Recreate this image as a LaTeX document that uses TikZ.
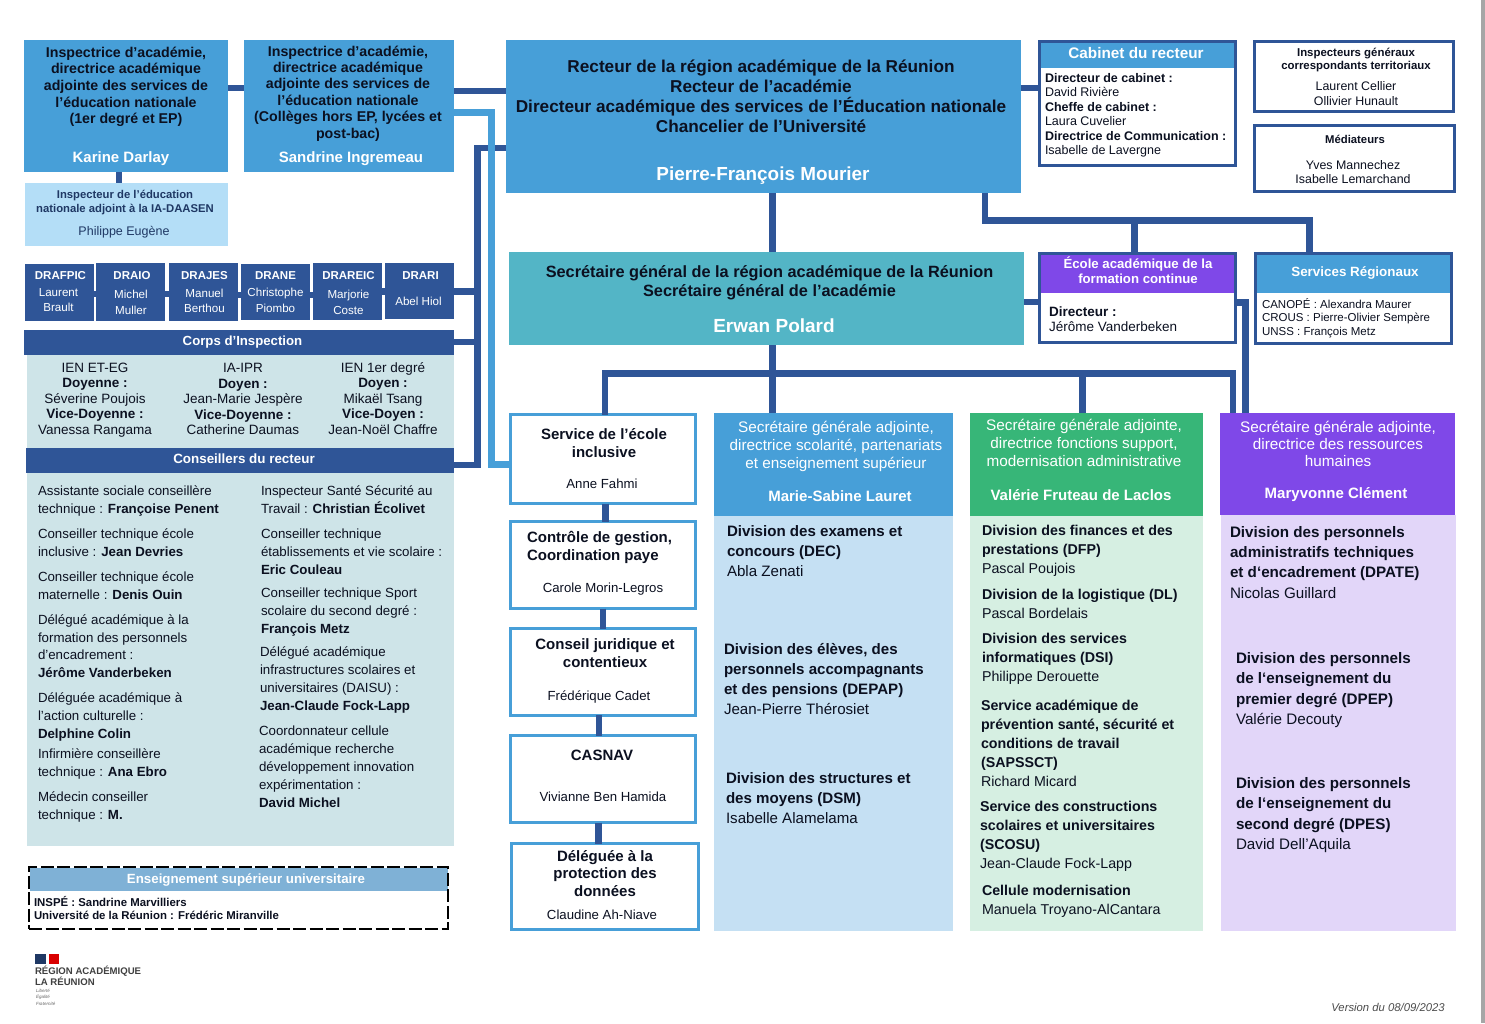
\documentclass[tikz,border=0pt]{standalone}
\usepackage{fontspec}
\setmainfont{Liberation Sans}
\definecolor{dk}{HTML}{2F5597}
\definecolor{bl}{HTML}{479FD8}
\definecolor{lbl}{HTML}{B4DEF7}
\definecolor{pan}{HTML}{CEE4E8}
\definecolor{teal}{HTML}{53B5C6}
\definecolor{pur}{HTML}{7F48E8}
\definecolor{grn}{HTML}{37B678}
\definecolor{lgrn}{HTML}{D6EFE2}
\definecolor{lpur}{HTML}{E2D6F9}
\definecolor{lblu}{HTML}{C5E0F3}
\definecolor{ens}{HTML}{7FB1D6}
\definecolor{ink}{HTML}{0B1020}
\definecolor{navy}{HTML}{1F3864}
\tikzset{
 boxn/.style={inner sep=0pt,outer sep=0pt,anchor=north west,draw=none},
 ruled/.style={draw=dk,line width=3pt},
 bruled/.style={draw=bl,line width=3pt},
 lbln/.style={inner sep=0pt,outer sep=0pt,anchor=north,align=center,text=ink},
 lft/.style={anchor=north west,align=left},
 wht/.style={text=white},
 conn/.style={draw=dk,line width=6.5pt},
 connl/.style={draw=bl,line width=6.5pt},
}
\newcommand\bx[6][]{\node[boxn,#1,minimum width={#5-#3},minimum height={#6-#4}] (#2) at (#3,#4) {};}
\newcommand\tx[7][]{\node[lbln,#1,font=\fontsize{#5}{#6}\selectfont] (#2) at (#3,{#4-0.64*#5}) {\rule{0pt}{#5pt}#7};}
\newcommand\txb[7][]{\node[lbln,#1,font=\fontsize{#5}{#6}\selectfont\bfseries] (#2) at (#3,{#4-0.64*#5}) {\rule{0pt}{#5pt}#7};}
\begin{document}
\begin{tikzpicture}[x=1pt,y=-1pt]
\useasboundingbox (0,0) rectangle (1485,1023);
\fill[white] (0,0) rectangle (1485,1023);
\bx[fill=gray!70]{scrollbar}{1481}{0}{1485}{1023}
% boxes
\bx[fill=bl]{iaone}{24}{40}{228}{172}
\bx[fill=bl]{iatwo}{244}{40}{454}{172}
\bx[fill=lbl]{ien}{25}{183}{228}{246}
\bx[fill=pan]{corpspan}{27}{355}{454}{448}
\bx[fill=dk]{corps}{24}{330}{454}{355}
\bx[fill=pan]{conspan}{27}{473}{454}{846}
\bx[fill=dk]{cons}{26}{448}{454}{473}
\bx[fill=bl]{rector}{506}{40}{1021}{193}
\bx[ruled]{cab}{1039.5}{41.5}{1235.5}{165.5}
\bx[fill=bl]{cabh}{1041}{43}{1234}{68}
\bx[ruled]{ig}{1254.5}{41.5}{1453.5}{111.5}
\bx[ruled]{med}{1254.5}{125.5}{1454.5}{191.5}
\bx[fill=teal]{sg}{509}{252}{1024}{345}
\bx[ruled]{ea}{1039.5}{253.5}{1235.5}{342.5}
\bx[fill=pur]{eah}{1041}{255}{1234}{293}
\bx[ruled]{srv}{1255.5}{253.5}{1451.5}{343.5}
\bx[fill=bl]{srvh}{1257}{255}{1450}{293}
\bx[bruled]{sei}{510.5}{414.5}{695.2}{503.5}
\bx[bruled]{ctrl}{510.5}{521.5}{695.2}{608.5}
\bx[bruled]{jur}{510.5}{628.5}{695.2}{715.2}
\bx[bruled]{casnav}{510.5}{735.5}{695.2}{822.5}
\bx[bruled]{dpd}{511.5}{843.5}{698.2}{929.5}
\bx[fill=lblu]{colapan}{714}{516}{953}{931}
\bx[fill=bl]{cola}{714}{413}{953}{516}
\bx[fill=lgrn]{colbpan}{970}{516}{1203}{931}
\bx[fill=grn]{colb}{970}{413}{1203}{516}
\bx[fill=lpur]{colcpan}{1221}{515}{1456}{931}
\bx[fill=pur]{colc}{1220}{413}{1455}{515}
\bx[fill=ens]{ensh}{30}{868}{448}{891}
\bx[draw=black,line width=2pt,dash pattern=on 13pt off 3.5pt]{ensb}{29}{867}{447.5}{929}
% connectors
\draw[conn] (iaone.east |- 0,88) -- (iatwo.west |- 0,88);
\draw[conn] (iatwo.east |- 0,91) -- (rector.west |- 0,91);
\draw[conn] (rector.east |- 0,88) -- (cab.west |- 0,88);
\draw[conn] (iaone.south -| 119,0) -- (ien.north -| 119,0);
\draw[conn] (rector.west |- 0,148) -- (477.5,148) -- (477.5,465) -- (cons.east |- 0,465);
\draw[conn] (corps.east |- 0,342) -- (477.5,342);
\draw[connl] (iatwo.east |- 0,112.5) -- (491.5,112.5) -- (491.5,464.5) -- (sei.west |- 0,464.5);
\draw[conn] (rector.south -| 772.5,0) -- (sg.north -| 772.5,0);
\draw[conn] (rector.south -| 985,0) -- (985,220.5) -- (1309.5,220.5) -- (srv.north -| 1309.5,0);
\draw[conn] (1134.5,220.5) -- (ea.north -| 1134.5,0);
\draw[conn] (sg.east |- 0,302) -- (ea.west |- 0,302);
\draw[conn] (ea.east |- 0,302.5) -- (1245.5,302.5) -- (colc.north -| 1245.5,0);
\draw[conn] (sg.south -| 772.5,0) -- (cola.north -| 772.5,0);
\draw[conn] (sei.north -| 605,0) -- (605,373.5) -- (1233,373.5) -- (colc.north -| 1233,0);
\draw[conn] (1082.5,373.5) -- (colb.north -| 1082.5,0);
\draw[conn] (sei.south -| 605.5,0) -- (ctrl.north -| 605.5,0);
\draw[conn] (ctrl.south -| 603,0) -- (jur.north -| 603,0);
\draw[conn] (jur.south -| 599,0) -- (casnav.north -| 599,0);
\draw[conn] (casnav.south -| 598.5,0) -- (dpd.north -| 598.5,0);
% regional delegates row
\bx[fill=dk]{drafpic}{25}{264}{94}{321}
\bx[fill=dk]{draio}{96}{263}{165}{321}
\bx[fill=dk]{drajes}{169}{263}{238}{321}
\bx[fill=dk]{drane}{241}{264}{310}{320}
\bx[fill=dk]{drareic}{313}{263}{382}{320}
\bx[fill=dk]{drari}{385}{263}{454}{319}
\draw[conn] (drafpic.east |- 0,294) -- (draio.west |- 0,294);
\draw[conn] (draio.east |- 0,294) -- (drajes.west |- 0,294);
\draw[conn] (drajes.east |- 0,295) -- (drane.west |- 0,295);
\draw[conn] (drane.east |- 0,295) -- (drareic.west |- 0,295);
\draw[conn] (drareic.east |- 0,291.5) -- (drari.west |- 0,291.5);
\draw[conn] (drari.east |- 0,291.5) -- (477.5,291.5);
% texts
\txb[]{taone}{126}{52}{14.2}{16.7}{Inspectrice d’académie,\\directrice académique\\adjointe des services de\\l’éducation nationale\\(1er degré et EP)}
\txb[wht]{naone}{121}{157}{15}{18}{Karine Darlay}
\txb[]{tatwo}{348}{51}{14.2}{16.4}{Inspectrice d’académie,\\directrice académique\\adjointe des services de\\l’éducation nationale\\(Collèges hors EP, lycées et\\post-bac)}
\txb[wht]{natwo}{351}{157}{15}{18}{Sandrine Ingremeau}
\txb[text=navy]{tien}{125}{194}{11.3}{14}{Inspecteur de l’éducation\\nationale adjoint à la IA-DAASEN}
\tx[text=navy]{nien}{124}{231}{12.5}{15}{Philippe Eugène}
\txb[wht]{a1}{60.5}{275}{11.5}{14}{DRAFPIC}
\tx[wht]{a2}{58.5}{292}{11.6}{15.5}{Laurent\\Brault}
\txb[wht]{b1}{132}{275}{11.5}{14}{DRAIO}
\tx[wht]{b2}{131}{294}{11.6}{16}{Michel\\Muller}
\txb[wht]{c1}{204.5}{275}{11.5}{14}{DRAJES}
\tx[wht]{c2}{204.5}{293}{11.6}{15.5}{Manuel\\Berthou}
\txb[wht]{d1}{275.5}{275}{11.5}{14}{DRANE}
\tx[wht]{d2}{275.5}{292}{11.6}{16}{Christophe\\Piombo}
\txb[wht]{e1}{348.5}{275}{11.5}{14}{DRAREIC}
\tx[wht]{e2}{348.5}{294}{11.6}{16}{Marjorie\\Coste}
\txb[wht]{f1}{420.5}{275}{11.5}{14}{DRARI}
\tx[wht]{f2}{418.5}{301}{11.6}{14}{Abel Hiol}
\txb[wht]{tcorps}{242.5}{341}{13.2}{14}{Corps d’Inspection}
\tx[]{cp1}{95}{367.5}{13.5}{15.5}{IEN ET-EG\\\textbf{Doyenne :}\\Séverine Poujois\\\textbf{Vice-Doyenne :}\\Vanessa Rangama}
\tx[]{cp2}{243}{368}{13.5}{15.5}{IA-IPR\\\textbf{Doyen :}\\Jean-Marie Jespère\\\textbf{Vice-Doyenne :}\\Catherine Daumas}
\tx[]{cp3}{383}{367.5}{13.5}{15.5}{IEN 1er degré\\\textbf{Doyen :}\\Mikaël Tsang\\\textbf{Vice-Doyen :}\\Jean-Noël Chaffre}
\txb[wht]{tcons}{244}{459}{13.4}{14}{Conseillers du recteur}
\tx[lft]{l1}{38}{491}{13.3}{17.8}{Assistante sociale conseillère\\technique : \textbf{Françoise Penent}}
\tx[lft]{l2}{38}{534}{13.3}{17.8}{Conseiller technique école\\inclusive : \textbf{Jean Devries}}
\tx[lft]{l3}{38}{577}{13.3}{17.8}{Conseiller technique école\\maternelle : \textbf{Denis Ouin}}
\tx[lft]{l4}{38}{620}{13.3}{17.6}{Délégué académique à la\\formation des personnels\\d’encadrement :\\\textbf{Jérôme Vanderbeken}}
\tx[lft]{l5}{38}{698}{13.3}{17.6}{Déléguée académique à\\l’action culturelle :\\\textbf{Delphine Colin}}
\tx[lft]{l6}{38}{754}{13.3}{17.8}{Infirmière conseillère\\technique : \textbf{Ana Ebro}}
\tx[lft]{l7}{38}{797}{13.3}{17.8}{Médecin conseiller\\technique : \textbf{M.}}
\tx[lft]{r1}{261}{491}{13.3}{17.8}{Inspecteur Santé Sécurité au\\Travail : \textbf{Christian Écolivet}}
\tx[lft]{r2}{261}{534}{13.3}{18}{Conseiller technique\\établissements et vie scolaire :\\\textbf{Eric Couleau}}
\tx[lft]{r3}{261}{593}{13.3}{18}{Conseiller technique Sport\\scolaire du second degré :\\\textbf{François Metz}}
\tx[lft]{r4}{260}{652}{13.3}{18}{Délégué académique\\infrastructures scolaires et\\universitaires (DAISU) :\\\textbf{Jean-Claude Fock-Lapp}}
\tx[lft]{r5}{259}{731}{13.3}{17.8}{Coordonnateur cellule\\académique recherche\\développement innovation\\expérimentation :\\\textbf{David Michel}}
\txb[wht]{tens}{246}{879}{13.3}{14}{Enseignement supérieur universitaire}
\txb[lft]{lens}{34}{902}{11.4}{13.2}{INSPÉ : Sandrine Marvilliers\\Université de la Réunion : Frédéric Miranville}
% logo
\bx[fill=navy]{flagb}{35}{954}{46}{964}
\bx[fill=red!85!black]{flagr}{49}{954}{59}{964}
\txb[lft,text=black!75]{logo}{35}{971}{9.6}{10.2}{RÉGION ACADÉMIQUE\\LA RÉUNION}
\tx[lft,text=black!60]{devise}{36}{991}{4.5}{6.2}{\itshape Liberté\\\itshape Égalité\\\itshape Fraternité}
\tx[text=black!70]{version}{1388}{1007}{11.3}{12}{\itshape Version du 08/09/2023}
% rector
\txb[]{trec}{761}{66}{17.2}{20}{Recteur de la région académique de la Réunion\\Recteur de l’académie\\Directeur académique des services de l’Éducation nationale\\Chancelier de l’Université}
\txb[wht]{nrec}{763}{174}{18.9}{20}{Pierre-François Mourier}
\txb[wht]{tcab}{1136}{53}{15.3}{16}{Cabinet du recteur}
\tx[lft]{lcab}{1045}{78}{12.5}{14.4}{\textbf{Directeur de cabinet :}\\David Rivière\\\textbf{Cheffe de cabinet :}\\Laura Cuvelier\\\textbf{Directrice de Communication :}\\Isabelle de Lavergne}
\txb[]{tig}{1356}{52}{11.4}{13}{Inspecteurs généraux\\correspondants territoriaux}
\tx[]{nig}{1356}{86}{12.4}{15}{Laurent Cellier\\Ollivier Hunault}
\txb[]{tmed}{1355}{139}{11.3}{13}{Médiateurs}
\tx[]{nmed}{1353}{165}{12.4}{14.3}{Yves Mannechez\\Isabelle Lemarchand}
\txb[]{tsg}{769.5}{272}{16.3}{19}{Secrétaire général de la région académique de la Réunion\\Secrétaire général de l’académie}
\txb[wht]{nsg}{774}{326}{19}{20}{Erwan Polard}
\txb[wht]{tea}{1138}{264}{13.2}{15}{École académique de la\\formation continue}
\tx[lft]{lea}{1049}{312}{13.5}{15}{\textbf{Directeur :}\\Jérôme Vanderbeken}
\txb[wht]{tsrv}{1355}{272}{13.4}{14}{Services Régionaux}
\tx[lft]{lsrv}{1262}{304}{11.5}{13.6}{CANOPÉ : Alexandra Maurer\\CROUS : Pierre-Olivier Sempère\\UNSS : François Metz}
% service column
\txb[]{s1}{604}{434}{15}{18}{Service de l’école\\inclusive}
\tx[]{s1n}{602}{484}{13.2}{15}{Anne Fahmi}
\txb[lft]{s2}{527}{537}{15}{18}{Contrôle de gestion,\\Coordination paye}
\tx[]{s2n}{603}{588}{13.2}{15}{Carole Morin-Legros}
\txb[]{s3}{605}{644}{15}{18}{Conseil juridique et\\contentieux}
\tx[]{s3n}{599}{696}{13.2}{15}{Frédérique Cadet}
\txb[]{s4}{602}{755}{15}{18}{CASNAV}
\tx[]{s4n}{603}{797}{13.2}{15}{Vivianne Ben Hamida}
\txb[]{s5}{605}{856}{15}{17.5}{Déléguée à la\\protection des\\données}
\tx[]{s5n}{602}{915}{13.2}{15}{Claudine Ah-Niave}
% col a
\tx[wht]{cah}{836}{427}{15.3}{18}{Secrétaire générale adjointe,\\directrice scolarité, partenariats\\et enseignement supérieur}
\txb[wht]{can}{840}{496}{15}{18}{Marie-Sabine Lauret}
\tx[lft]{ca1}{727}{531}{15.1}{20}{\textbf{Division des examens et}\\\textbf{concours (DEC)}\\Abla Zenati}
\tx[lft]{ca2}{724}{649}{15.1}{20}{\textbf{Division des élèves, des}\\\textbf{personnels accompagnants}\\\textbf{et des pensions (DEPAP)}\\Jean-Pierre Thérosiet}
\tx[lft]{ca3}{726}{778}{15.1}{20}{\textbf{Division des structures et}\\\textbf{des moyens (DSM)}\\Isabelle Alamelama}
% col b
\tx[wht]{cbh}{1084}{425}{15.3}{18}{Secrétaire générale adjointe,\\directrice fonctions support,\\modernisation administrative}
\txb[wht]{cbn}{1081}{495}{15}{18}{Valérie Fruteau de Laclos}
\tx[lft]{cb1}{982}{530.4}{14.25}{19}{\textbf{Division des finances et des}\\\textbf{prestations (DFP)}\\Pascal Poujois}
\tx[lft]{cb2}{982}{594.4}{14.25}{18.9}{\textbf{Division de la logistique (DL)}\\Pascal Bordelais}
\tx[lft]{cb3}{982}{638.4}{14.25}{19.2}{\textbf{Division des services}\\\textbf{informatiques (DSI)}\\Philippe Derouette}
\tx[lft]{cb4}{981}{705.4}{14.25}{18.9}{\textbf{Service académique de}\\\textbf{prévention santé, sécurité et}\\\textbf{conditions de travail}\\\textbf{(SAPSSCT)}\\Richard Micard}
\tx[lft]{cb5}{980}{806.4}{14.25}{19}{\textbf{Service des constructions}\\\textbf{scolaires et universitaires}\\\textbf{(SCOSU)}\\Jean-Claude Fock-Lapp}
\tx[lft]{cb6}{982}{890.4}{14.25}{18.8}{\textbf{Cellule modernisation}\\Manuela Troyano-AlCantara}
% col c
\tx[wht]{cch}{1338}{427}{15.3}{17.2}{Secrétaire générale adjointe,\\directrice des ressources\\humaines}
\txb[wht]{ccn}{1336}{493}{15}{18}{Maryvonne Clément}
\tx[lft]{cc1}{1230}{532}{15.2}{20.2}{\textbf{Division des personnels}\\\textbf{administratifs techniques}\\\textbf{et d‘encadrement (DPATE)}\\Nicolas Guillard}
\tx[lft]{cc2}{1236}{658}{15.2}{20.3}{\textbf{Division des personnels}\\\textbf{de l‘enseignement du}\\\textbf{premier degré (DPEP)}\\Valérie Decouty}
\tx[lft]{cc3}{1236}{783}{15.2}{20.3}{\textbf{Division des personnels}\\\textbf{de l‘enseignement du}\\\textbf{second degré (DPES)}\\David Dell’Aquila}
\end{tikzpicture}
\end{document}
